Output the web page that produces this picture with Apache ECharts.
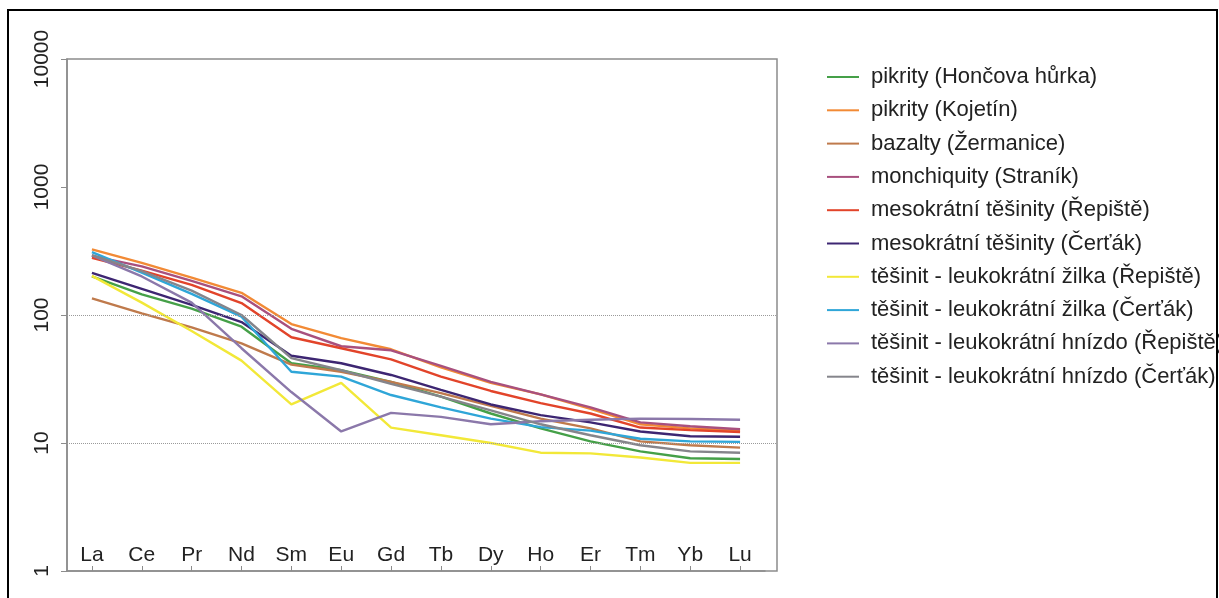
<!DOCTYPE html>
<html>
<head>
<meta charset="utf-8">
<script src="https://cdn.jsdelivr.net/npm/echarts@6/dist/echarts.min.js"></script>
<style>
  html, body { margin: 0; padding: 0; background: #ffffff; }
  #chart { width: 1219px; height: 598px; }
</style>
</head>
<body>
<div id="chart"></div>
<script>
// REE patterns normalised to chondrite, log scale
const elements = ['La', 'Ce', 'Pr', 'Nd', 'Sm', 'Eu', 'Gd', 'Tb', 'Dy', 'Ho', 'Er', 'Tm', 'Yb', 'Lu'];

const pikrityHoncova   = [200, 145, 112, 81, 42, 37, 30, 23, 17, 13, 10.3, 8.6, 7.6, 7.5];
const pikrityKojetin   = [326, 255, 196, 149, 85, 66, 54, 39, 29.5, 24, 18.5, 14, 13, 12.5];
const bazaltyZermanice = [135, 103, 80, 60, 41, 36, 30, 24.5, 19.5, 15.5, 13, 10.3, 9.6, 9.2];
const monchiquityStranik = [290, 240, 185, 140, 78, 57, 53, 40, 30, 24, 19, 14.5, 13.5, 12.8];
const mesokratniRepiste = [280, 222, 172, 124, 67, 55, 45, 33, 25.5, 20.5, 17, 13.2, 12.6, 12.2];
const mesokratniCertak  = [213, 160, 120, 88, 48, 42, 34, 26, 20, 16.5, 14.5, 12.3, 11.3, 11.2];
const zilkaRepiste  = [202, 125, 75, 44, 20, 29.5, 13.2, 11.5, 10, 8.4, 8.3, 7.7, 7.0, 7.0];
const zilkaCertak   = [310, 214, 146, 97, 36, 33, 23.7, 19, 15.5, 13.3, 12.5, 10.8, 10.3, 10.2];
const hnizdoRepiste = [292, 200, 125, 55, 25, 12.3, 17.2, 16, 14, 14.8, 15.2, 15.5, 15.4, 15.2];
const hnizdoCertak  = [294, 220, 155, 100, 46, 37, 29, 23, 18, 14, 11.5, 9.6, 8.6, 8.4];

const seriesNames = [
  'pikrity (Hončova hůrka)',
  'pikrity (Kojetín)',
  'bazalty (Žermanice)',
  'monchiquity (Straník)',
  'mesokrátní těšinity (Řepiště)',
  'mesokrátní těšinity (Čerťák)',
  'těšinit - leukokrátní žilka (Řepiště)',
  'těšinit - leukokrátní žilka (Čerťák)',
  'těšinit - leukokrátní hnízdo (Řepiště)',
  'těšinit - leukokrátní hnízdo (Čerťák)'
];
const seriesValues = [
  pikrityHoncova, pikrityKojetin, bazaltyZermanice, monchiquityStranik,
  mesokratniRepiste, mesokratniCertak, zilkaRepiste, zilkaCertak,
  hnizdoRepiste, hnizdoCertak
];
const seriesColors = [
  '#45a048', '#f28a35', '#bf7a4c', '#a8507e', '#e2442a',
  '#3d2672', '#f2e838', '#2fa6d8', '#8b78aa', '#85858b'
];
const yGuides = [10, 100];

const FONT = '"Liberation Sans", Arial, Helvetica, sans-serif';
const AXIS_GREY = '#8c8c8c';

const chart = echarts.init(document.getElementById('chart'), null, { renderer: 'canvas' });

const lineSeries = seriesNames.map((name, i) => ({
  name: name,
  type: 'line',
  xAxisIndex: 0,
  yAxisIndex: 0,
  data: seriesValues[i],
  symbol: 'none',
  smooth: false,
  z: 3,
  lineStyle: { color: seriesColors[i], width: 2.4 },
  itemStyle: { color: seriesColors[i] },
  emphasis: { disabled: true }
}));

// dotted reference lines across the full frame
const guideSeries = {
  type: 'line',
  xAxisIndex: 1,
  yAxisIndex: 1,
  data: [],
  z: 1,
  silent: true,
  markLine: {
    silent: true,
    symbol: 'none',
    label: { show: false },
    lineStyle: { type: 'dotted', color: '#9a9a9a', width: 1 },
    data: yGuides.map(v => ({ yAxis: v }))
  }
};

chart.setOption({
  animation: false,
  backgroundColor: '#ffffff',
  textStyle: { fontFamily: FONT },
  graphic: [{
    type: 'rect',
    shape: { x: 8, y: 10, width: 1209, height: 600 },
    style: { fill: 'none', stroke: '#000000', lineWidth: 2 },
    silent: true,
    z: 10
  }],
  legend: {
    orient: 'vertical',
    left: 822,
    top: 61,
    data: seriesNames,
    icon: 'rect',
    itemWidth: 32,
    itemHeight: 2,
    itemGap: 11.3,
    selectedMode: false,
    textStyle: {
      fontFamily: FONT,
      fontSize: 22,
      lineHeight: 22,
      color: '#222222',
      padding: [0, 0, 0, 7]
    }
  },
  grid: [
    { left: 67, right: 454, top: 59, bottom: 27, containLabel: false },
    { left: 67, right: 442, top: 59, bottom: 27, containLabel: false,
      show: true, borderColor: AXIS_GREY, borderWidth: 1.5, backgroundColor: 'transparent' }
  ],
  xAxis: [
    {
      type: 'category',
      gridIndex: 0,
      data: elements,
      boundaryGap: true,
      axisLine: { show: true, lineStyle: { color: AXIS_GREY, width: 1.5 } },
      axisTick: { show: true, inside: true, length: 5, alignWithLabel: true,
                  lineStyle: { color: AXIS_GREY, width: 1 } },
      axisLabel: { inside: true, margin: 5, fontSize: 21, color: '#222222', fontFamily: FONT },
      splitLine: { show: false }
    },
    { type: 'value', gridIndex: 1, min: 0, max: 1, show: false }
  ],
  yAxis: [
    {
      type: 'log',
      logBase: 10,
      gridIndex: 0,
      min: 1,
      max: 10000,
      axisLine: { show: true, lineStyle: { color: AXIS_GREY, width: 1.5 } },
      axisTick: { show: true, inside: false, length: 6, lineStyle: { color: AXIS_GREY, width: 1 } },
      axisLabel: {
        rotate: 90, margin: 14, fontSize: 21, color: '#222222', fontFamily: FONT,
        formatter: v => String(Math.round(v))
      },
      splitLine: { show: false },
      minorTick: { show: false }
    },
    { type: 'log', logBase: 10, gridIndex: 1, min: 1, max: 10000, show: false }
  ],
  series: lineSeries.concat([guideSeries])
});
</script>
</body>
</html>
